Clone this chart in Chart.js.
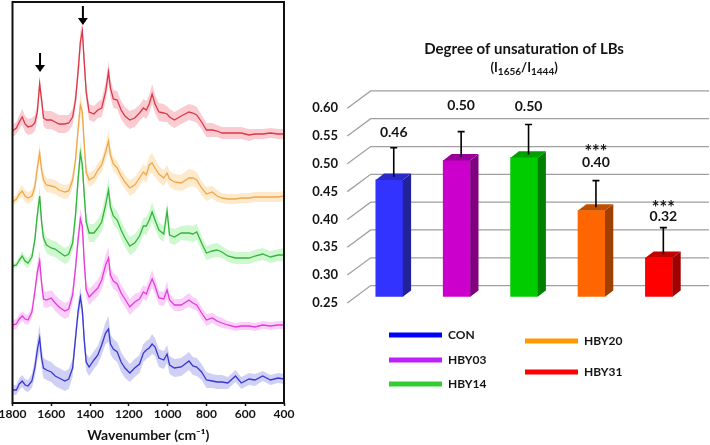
<!DOCTYPE html>
<html>
<head>
<meta charset="utf-8">
<title>Raman spectra and degree of unsaturation of LBs</title>
<script src="https://cdn.jsdelivr.net/npm/chart.js@4"></script>
<style>
    html, body { margin: 0; padding: 0; background: #fff; }
    #page { position: relative; width: 710px; height: 445px; overflow: hidden; }
    #spectra-box { position: absolute; left: 0; top: 0; width: 300px; height: 445px; }
    #bars-box { position: absolute; left: 300px; top: 0; width: 410px; height: 445px; }
</style>
</head>
<body>
<div id="page">
    <div id="spectra-box"><canvas id="spectra"></canvas></div>
    <div id="bars-box"><canvas id="bars"></canvas></div>
</div>
<script>
// Spectra. Intensity is arbitrary, with the stacking offset kept in.
const wavenumbers = [
    1800, 1780, 1765, 1750, 1735, 1720, 1700, 1685, 1672, 1660,
    1650, 1640, 1625, 1600, 1580, 1560, 1530, 1510, 1490, 1475,
    1462, 1450, 1440, 1430, 1420, 1405, 1380, 1360, 1340, 1320,
    1305, 1295, 1280, 1260, 1240, 1220, 1195, 1170, 1145, 1125,
    1110, 1095, 1080, 1065, 1045, 1020, 1003, 990, 965, 930,
    890, 870, 850, 825, 800, 770, 745, 720, 690, 650,
    620, 580, 550, 510, 470, 430, 400
];
const conSpectrum = [
    13, 13, 19, 22, 18, 17, 22, 35, 53, 65,
    45, 35, 33, 31, 27, 25, 22, 24, 35, 65,
    91, 106, 93, 63, 41, 36, 43, 48, 58, 70,
    74, 59, 54, 51, 41, 35, 30, 35, 39, 50,
    53, 55, 59, 56, 45, 43, 49, 38, 35, 36,
    42, 37, 36, 31, 23, 22, 21, 21, 20, 27,
    20, 24, 23, 27, 23, 25, 24
];
const hby03Spectrum = [
    78, 79, 84, 87, 84, 83, 91, 111, 131, 142,
    120, 104, 103, 105, 100, 96, 92, 94, 108, 135,
    163, 184, 177, 141, 113, 106, 111, 115, 123, 138,
    145, 128, 122, 119, 110, 104, 96, 101, 104, 111,
    109, 117, 124, 117, 105, 104, 113, 103, 98, 98,
    103, 100, 98, 90, 83, 85, 82, 80, 78, 76,
    77, 77, 76, 78, 77, 78, 78
];
const hby14Spectrum = [
    137, 138, 143, 147, 142, 140, 146, 163, 188, 207,
    181, 165, 158, 155, 154, 151, 147, 149, 160, 188,
    223, 250, 238, 208, 181, 170, 170, 175, 181, 198,
    213, 196, 187, 183, 173, 165, 157, 160, 167, 177,
    177, 183, 191, 183, 173, 169, 192, 168, 166, 170,
    170, 169, 171, 160, 150, 152, 153, 151, 147, 145,
    145, 145, 147, 149, 146, 148, 148
];
const hby20Spectrum = [
    201, 204, 209, 212, 207, 205, 207, 216, 235, 250,
    233, 223, 218, 217, 216, 213, 211, 212, 223, 243,
    273, 298, 291, 258, 231, 223, 226, 233, 238, 251,
    262, 248, 239, 235, 227, 221, 215, 218, 225, 231,
    228, 238, 240, 235, 229, 225, 230, 224, 221, 220,
    225, 225, 223, 215, 209, 211, 207, 205, 204, 204,
    205, 205, 206, 206, 206, 206, 207
];
const hby31Spectrum = [
    272, 275, 281, 286, 279, 276, 277, 280, 291, 319,
    303, 285, 283, 283, 281, 279, 279, 280, 286, 303,
    331, 361, 372, 341, 311, 291, 289, 293, 295, 311,
    331, 315, 304, 303, 293, 287, 283, 285, 290, 295,
    293, 299, 309, 299, 291, 290, 289, 286, 283, 287,
    291, 290, 288, 281, 273, 273, 272, 270, 270, 270,
    270, 268, 269, 269, 270, 269, 269
];

// Half-height of the shaded band round each spectrum
const conSpread = [
    5, 5, 6, 6, 6, 6, 7, 9, 11, 13,
    10, 10, 10, 10, 10, 10, 10, 10, 9, 9,
    9, 10, 9, 9, 9, 9, 9, 9, 10, 11,
    13, 10, 10, 10, 10, 10, 9, 9, 9, 9,
    9, 9, 10, 9, 9, 9, 9, 9, 9, 9,
    9, 9, 9, 8, 8, 7, 7, 7, 6, 6,
    6, 6, 6, 5, 5, 5, 5
];
const hby03Spread = [
    5, 5, 5, 5, 5, 5, 6, 7, 9, 11,
    8, 8, 8, 8, 8, 8, 8, 8, 8, 9,
    9, 10, 9, 8, 8, 8, 8, 8, 9, 10,
    11, 8, 8, 8, 8, 8, 8, 8, 7, 7,
    7, 8, 9, 8, 7, 7, 9, 6, 6, 6,
    7, 6, 6, 6, 6, 5, 5, 5, 4, 4,
    4, 4, 4, 4, 4, 4, 4
];
const hby14Spread = [
    3, 3, 4, 5, 5, 5, 5, 6, 8, 10,
    7, 8, 8, 8, 8, 8, 8, 8, 8, 9,
    10, 12, 10, 9, 9, 9, 9, 9, 10, 11,
    12, 9, 9, 9, 9, 9, 9, 9, 8, 8,
    9, 9, 10, 9, 8, 8, 10, 8, 8, 7,
    8, 8, 8, 7, 7, 7, 7, 6, 6, 6,
    6, 6, 6, 6, 6, 6, 7
];
const hby20Spread = [
    4, 4, 5, 6, 6, 6, 6, 7, 8, 10,
    7, 7, 7, 7, 7, 7, 7, 7, 7, 8,
    9, 12, 9, 8, 7, 7, 7, 7, 7, 8,
    11, 8, 7, 7, 7, 7, 8, 8, 8, 8,
    8, 9, 10, 9, 8, 8, 8, 8, 8, 8,
    9, 8, 8, 7, 7, 6, 6, 5, 5, 5,
    5, 5, 5, 5, 5, 5, 5
];
const hby31Spread = [
    6, 6, 7, 8, 8, 8, 8, 8, 9, 9,
    8, 8, 9, 9, 9, 9, 9, 8, 8, 9,
    10, 11, 8, 9, 8, 8, 8, 8, 9, 10,
    11, 9, 9, 9, 9, 9, 9, 9, 8, 9,
    9, 9, 10, 9, 9, 9, 8, 8, 8, 8,
    8, 8, 8, 7, 7, 7, 6, 6, 6, 6,
    6, 6, 5, 5, 5, 5, 5
];
const arrowWavenumbers = [1658, 1437];
const arrowTips = [331, 378];

// Bar chart
const groups = ['CON', 'HBY03', 'HBY14', 'HBY20', 'HBY31'];
const ratios = [0.46, 0.495, 0.50, 0.405, 0.32];
const errorTops = [0.512, 0.541, 0.554, 0.453, 0.3685];
const ratioLabels = ['0.46', '0.50', '0.50', '0.40', '0.32'];
const ratioLabelLevels = [0.5445, 0.593, 0.5917, 0.4905, 0.3933];
const significance = ['', '', '', '***', '***'];
const significanceLevels = [0, 0, 0, 0.509, 0.410];

const FONT = 'Lato, "Open Sans", sans-serif';
const INK = '#141414';

const barFront = ['#3333ff', '#cc00cc', '#00cc00', '#ff6600', '#ff0000'];
const barSide = ['#222299', '#800080', '#008000', '#a04000', '#a00000'];
const barTop = ['#2a2ac8', '#990099', '#00a000', '#c05000', '#c00000'];
const legendColors = ['#0000ff', '#bf1fff', '#33cc33', '#ff9900', '#ff0000'];

// Where the legend rows sit, in canvas pixels of the bar chart
const legendRows = [
    { x: 89, y: 335 },
    { x: 89, y: 360 },
    { x: 89, y: 384 },
    { x: 225, y: 341 },
    { x: 225, y: 372 }
];

/**
 * Build the band + line datasets of one spectrum.
 */
function spectrumDatasets(values, spread, lineColor, bandColor) {
    const points = list => list.map((y, i) => ({ x: wavenumbers[i], y: y }));
    return [
        {
            data: points(values.map((v, i) => v + spread[i])),
            borderWidth: 0,
            pointRadius: 0,
            backgroundColor: bandColor,
            fill: '+1'
        },
        {
            data: points(values.map((v, i) => v - spread[i])),
            borderWidth: 0,
            pointRadius: 0,
            fill: false
        },
        {
            data: points(values),
            borderColor: lineColor,
            borderWidth: 1.3,
            pointRadius: 0,
            fill: false
        }
    ];
}

// Closed frame round the spectra and the two arrows over the picked peaks
const spectraDecor = {
    id: 'spectraDecor',
    afterDraw(chart) {
        const { ctx, chartArea, scales } = chart;
        ctx.save();
        ctx.strokeStyle = '#111';
        ctx.lineWidth = 2;
        ctx.strokeRect(chartArea.left, chartArea.top, chartArea.width, chartArea.height);

        ctx.fillStyle = '#000';
        ctx.strokeStyle = '#000';
        arrowWavenumbers.forEach((wn, i) => {
            const x = scales.x.getPixelForValue(wn);
            const tip = scales.y.getPixelForValue(arrowTips[i]);
            ctx.lineWidth = 2;
            ctx.beginPath();
            ctx.moveTo(x, tip - 19);
            ctx.lineTo(x, tip - 6);
            ctx.stroke();
            ctx.beginPath();
            ctx.moveTo(x - 5, tip - 7);
            ctx.lineTo(x + 5, tip - 7);
            ctx.lineTo(x, tip);
            ctx.closePath();
            ctx.fill();
        });
        ctx.restore();
    }
};

// Depth of the fake 3D floor and of the bars
const WALL_DX = 23.4;
const FRONT_DY = 6.2;
const BACK_DY = 11.1;
const BAR_DX = 8.3;
const BAR_DY = 6.3;

const wallGrid = {
    id: 'wallGrid',
    beforeDatasetsDraw(chart) {
        const { ctx, scales } = chart;
        const y = scales.y;
        const frontX = y.right - 8.3;
        ctx.save();
        ctx.strokeStyle = '#a0a0a0';
        ctx.lineWidth = 1.3;
        y.ticks.forEach(tick => {
            const py = y.getPixelForValue(tick.value);
            ctx.beginPath();
            ctx.moveTo(frontX, py + FRONT_DY);
            ctx.lineTo(frontX + WALL_DX, py - BACK_DY);
            ctx.lineTo(chart.width - 1, py - BACK_DY);
            ctx.stroke();
        });
        ctx.restore();
    }
};

// Side and top faces of the bars, error bars, and every label the library has no slot for
const barDecor = {
    id: 'barDecor',
    afterDatasetsDraw(chart) {
        const { ctx, scales, chartArea } = chart;
        const y = scales.y;
        ctx.save();
        chart.getDatasetMeta(0).data.forEach((bar, i) => {
            const left = bar.x - bar.width / 2;
            const right = bar.x + bar.width / 2;

            ctx.fillStyle = barSide[i];
            ctx.beginPath();
            ctx.moveTo(right, bar.y);
            ctx.lineTo(right + BAR_DX, bar.y - BAR_DY);
            ctx.lineTo(right + BAR_DX, chartArea.bottom - BAR_DY);
            ctx.lineTo(right, chartArea.bottom);
            ctx.closePath();
            ctx.fill();

            ctx.fillStyle = barTop[i];
            ctx.beginPath();
            ctx.moveTo(left, bar.y);
            ctx.lineTo(left + BAR_DX, bar.y - BAR_DY);
            ctx.lineTo(right + BAR_DX, bar.y - BAR_DY);
            ctx.lineTo(right, bar.y);
            ctx.closePath();
            ctx.fill();

            // Error bars stand in the middle of the bar's depth
            const ex = bar.x + BAR_DX / 2 + 0.3;
            const ey = y.getPixelForValue(errorTops[i]) - BAR_DY / 2;
            ctx.strokeStyle = '#000';
            ctx.lineWidth = 1.6;
            ctx.beginPath();
            ctx.moveTo(ex, bar.y - BAR_DY / 2);
            ctx.lineTo(ex, ey);
            ctx.moveTo(ex - 3.5, ey);
            ctx.lineTo(ex + 3.5, ey);
            ctx.stroke();

            ctx.fillStyle = INK;
            ctx.textAlign = 'center';
            ctx.textBaseline = 'middle';
            ctx.font = 'bold 14px ' + FONT;
            ctx.fillText(ratioLabels[i], ex, y.getPixelForValue(ratioLabelLevels[i]));
            if (significance[i]) {
                ctx.font = 'bold 18px ' + FONT;
                ctx.fillText(significance[i], ex, y.getPixelForValue(significanceLevels[i]));
            }
        });
        ctx.restore();
    },
    afterDraw(chart) {
        const { ctx, chartArea } = chart;
        ctx.save();

        // (I1656/I1444) with real subscripts
        const parts = [
            ['(I', 13, 0], ['1656', 10, 3], ['/I', 13, 0], ['1444', 10, 3], [')', 13, 0]
        ];
        const setFont = size => { ctx.font = 'bold ' + size + 'px ' + FONT; };
        let width = 0;
        parts.forEach(p => { setFont(p[1]); width += ctx.measureText(p[0]).width; });
        let x = (chartArea.left + chartArea.right) / 2 - width / 2;
        ctx.fillStyle = INK;
        ctx.textAlign = 'left';
        ctx.textBaseline = 'alphabetic';
        parts.forEach(p => {
            setFont(p[1]);
            ctx.fillText(p[0], x, 72 + p[2]);
            x += ctx.measureText(p[0]).width;
        });

        // Hand-placed legend: two columns of thick strokes
        ctx.textBaseline = 'middle';
        groups.forEach((name, i) => {
            const row = legendRows[i];
            ctx.fillStyle = legendColors[i];
            ctx.fillRect(row.x, row.y - 2.5, 53, 5);
            ctx.fillStyle = INK;
            setFont(12);
            ctx.fillText(name, row.x + 59, row.y);
        });
        ctx.restore();
    }
};

function renderSpectra() {
    new Chart(document.getElementById('spectra'), {
        type: 'line',
        data: {
            datasets: [
                ...spectrumDatasets(conSpectrum, conSpread, '#1414c4', 'rgba(120, 120, 230, 0.35)'),
                ...spectrumDatasets(hby03Spectrum, hby03Spread, '#de1ccf', 'rgba(240, 120, 240, 0.35)'),
                ...spectrumDatasets(hby14Spectrum, hby14Spread, '#0e981c', 'rgba(120, 235, 120, 0.35)'),
                ...spectrumDatasets(hby20Spectrum, hby20Spread, '#e8952b', 'rgba(250, 200, 120, 0.38)'),
                ...spectrumDatasets(hby31Spectrum, hby31Spread, '#cc1c28', 'rgba(240, 110, 125, 0.35)')
            ]
        },
        options: {
            responsive: true,
            maintainAspectRatio: false,
            animation: false,
            layout: { padding: { left: 12.5, right: 16, top: 2, bottom: 0 } },
            plugins: { legend: { display: false }, tooltip: { enabled: false } },
            scales: {
                x: {
                    type: 'linear',
                    reverse: true,
                    min: 400,
                    max: 1800,
                    afterFit(scale) {
                        scale.height = 42;
                        scale.paddingLeft = 0;
                        scale.paddingRight = 0;
                    },
                    grid: { drawOnChartArea: false, tickLength: 3, tickColor: '#111', tickWidth: 1.5 },
                    border: { display: false },
                    ticks: {
                        stepSize: 200,
                        maxRotation: 0,
                        autoSkip: false,
                        padding: 1,
                        color: INK,
                        font: { family: FONT, size: 12, weight: 'bold' },
                        callback: value => String(value)
                    },
                    title: {
                        display: true,
                        text: 'Wavenumber (cm⁻¹)',
                        color: INK,
                        padding: { top: 0, bottom: 1 },
                        font: { family: FONT, size: 14, weight: 'bold' }
                    }
                },
                y: { display: false, min: 0, max: 401 }
            }
        },
        plugins: [spectraDecor]
    });
}

function renderBars() {
    new Chart(document.getElementById('bars'), {
        type: 'bar',
        data: {
            labels: groups,
            datasets: [{
                data: ratios,
                backgroundColor: barFront,
                barThickness: 27
            }]
        },
        options: {
            responsive: true,
            maintainAspectRatio: false,
            animation: false,
            layout: { padding: { left: 0, right: 17.4, top: 0, bottom: 148.3 } },
            plugins: {
                legend: { display: false },
                tooltip: { enabled: false },
                title: {
                    display: true,
                    fullSize: false,
                    text: 'Degree of unsaturation of LBs',
                    color: INK,
                    padding: { top: 40, bottom: 44 },
                    font: { family: FONT, size: 15, weight: 'bold' }
                }
            },
            scales: {
                x: { display: false },
                y: {
                    min: 0.25,
                    max: 0.60,
                    afterFit(scale) { scale.width = 55.6; },
                    grid: { display: false, drawTicks: false },
                    border: { display: false },
                    ticks: {
                        stepSize: 0.05,
                        padding: 17.6,
                        labelOffset: 6.2,
                        color: INK,
                        font: { family: FONT, size: 13, weight: 'bold' },
                        callback: value => value.toFixed(2)
                    }
                }
            }
        },
        plugins: [wallGrid, barDecor]
    });
}

document.addEventListener('DOMContentLoaded', function() {
    renderSpectra();
    renderBars();
});
</script>
</body>
</html>
